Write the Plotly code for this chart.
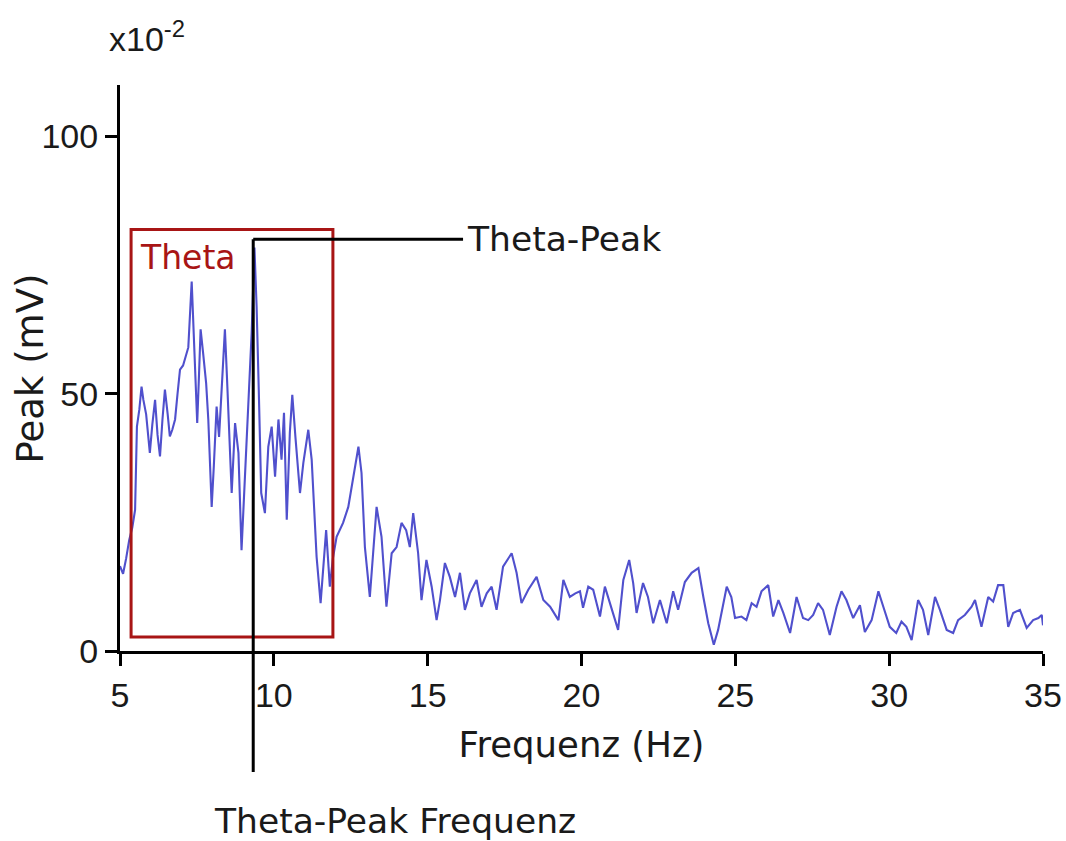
import plotly.graph_objects as go

# ---- data ----
freq = [5.00, 5.10, 5.20, 5.30, 5.40, 5.49, 5.55, 5.63, 5.70, 5.76, 5.85, 5.97, 6.05, 6.14, 6.22, 6.30,
        6.38, 6.46, 6.55, 6.62, 6.70, 6.79, 6.87, 6.95, 7.05, 7.11, 7.22, 7.33, 7.40, 7.44, 7.51, 7.57,
        7.62, 7.70, 7.80, 7.87, 7.98, 8.05, 8.14, 8.22, 8.30, 8.41, 8.48, 8.55, 8.63, 8.74, 8.85, 8.95,
        9.06, 9.17, 9.28, 9.37, 9.44, 9.51, 9.59, 9.71, 9.82, 9.93, 10.04, 10.15, 10.25, 10.33, 10.42,
        10.52, 10.60, 10.70, 10.85, 10.96, 11.12, 11.23, 11.30, 11.39, 11.52, 11.60, 11.70, 11.82, 11.92,
        12.04, 12.25, 12.42, 12.58, 12.75, 12.85, 12.96, 13.12, 13.22, 13.34, 13.50, 13.66, 13.83, 13.99,
        14.15, 14.30, 14.42, 14.53, 14.69, 14.80, 14.96, 15.13, 15.29, 15.40, 15.56, 15.72, 15.89, 16.05,
        16.21, 16.37, 16.59, 16.75, 16.92, 17.08, 17.24, 17.45, 17.73, 17.89, 18.05, 18.27, 18.54, 18.76,
        18.98, 19.25, 19.41, 19.62, 19.80, 19.95, 20.05, 20.22, 20.38, 20.60, 20.76, 20.98, 21.19, 21.36,
        21.55, 21.68, 21.79, 22.00, 22.16, 22.33, 22.55, 22.77, 22.98, 23.14, 23.36, 23.58, 23.80, 23.96,
        24.12, 24.30, 24.44, 24.72, 24.87, 24.99, 25.20, 25.36, 25.53, 25.69, 25.85, 26.07, 26.23, 26.40,
        26.56, 26.78, 26.99, 27.20, 27.37, 27.53, 27.69, 27.85, 28.07, 28.29, 28.45, 28.61, 28.83, 29.05,
        29.21, 29.43, 29.65, 29.81, 30.02, 30.23, 30.40, 30.56, 30.73, 30.94, 31.10, 31.27, 31.49, 31.65,
        31.87, 32.08, 32.24, 32.46, 32.68, 32.79, 33.00, 33.22, 33.38, 33.54, 33.71, 33.87, 34.03, 34.25,
        34.47, 34.68, 34.85, 34.96, 35.00]
peak = [16.5, 15.0, 18.0, 21.6, 24.0, 27.4, 43.6, 47.0, 51.4, 48.8, 46.0, 38.5, 44.0, 48.8, 42.0, 37.8,
        45.0, 50.8, 46.0, 41.7, 43.0, 45.0, 50.0, 54.7, 55.5, 56.6, 59.0, 71.8, 62.0, 56.6, 44.3, 54.0,
        62.5, 58.0, 52.0, 45.0, 28.0, 36.0, 47.5, 41.6, 50.0, 62.5, 52.7, 42.0, 30.7, 44.3, 38.5, 19.6,
        33.3, 45.5, 62.0, 78.4, 67.0, 50.8, 30.7, 26.8, 39.7, 43.6, 33.9, 45.0, 37.2, 46.3, 25.5,
        42.4, 49.8, 41.7, 30.7, 36.6, 43.0, 37.2, 28.0, 18.3, 9.3, 15.0, 23.5, 12.5, 18.0,
        22.2, 24.9, 28.0, 33.3, 39.7, 34.6, 20.2, 10.5, 19.0, 28.0, 22.2, 8.6, 19.0, 20.2,
        24.9, 23.5, 20.2, 26.8, 19.0, 9.9, 17.7, 12.5, 6.0, 9.9, 17.1, 14.4, 10.5, 15.2,
        8.0, 11.2, 13.8, 8.6, 11.2, 12.5, 8.0, 16.4, 19.0, 15.2, 9.3, 11.9, 14.4, 9.9,
        8.6, 6.0, 13.8, 10.5, 11.2, 11.6, 8.4, 12.5, 11.9, 6.7, 12.5, 8.0, 4.1, 13.8,
        17.7, 13.2, 7.4, 13.2, 10.5, 5.4, 9.9, 5.4, 11.6, 8.0, 13.4, 15.2, 16.1, 10.5,
        5.4, 1.2, 4.1, 12.5, 10.5, 6.4, 6.7, 6.0, 9.3, 8.6, 11.6, 12.8, 6.7, 9.9,
        7.4, 3.5, 10.5, 6.4, 6.0, 7.0, 9.3, 8.0, 3.1, 8.6, 11.6, 9.9, 6.4, 8.9,
        3.7, 6.0, 11.6, 8.6, 4.7, 3.5, 5.7, 4.7, 2.1, 9.9, 8.0, 3.1, 10.5, 8.0,
        4.1, 3.5, 6.0, 7.0, 8.6, 9.9, 4.7, 10.5, 9.6, 12.8, 12.8, 4.7, 7.4, 8.0,
        4.5, 6.0, 6.4, 7.0, 5.0]

x_ticks = [5, 10, 15, 20, 25, 30, 35]
y_ticks = [0, 50, 100]
x_range = [5, 35]
y_range = [0, 110]

theta_band = [5.36, 11.92]      # Hz
theta_box_y = [2.7, 81.9]
theta_peak_freq = 9.33
theta_peak_val = 80
theta_peak_label_x = 16.2

TICKFONT = "Liberation Sans, Arial, sans-serif"
FONT = "DejaVu Sans, Verdana, sans-serif"
TXT = "#1a1a1a"
RED = "#a81515"

fig = go.Figure()
fig.add_trace(go.Scatter(x=freq, y=peak, mode="lines",
                         line=dict(color="rgb(80,80,205)", width=2.1),
                         hoverinfo="skip"))

fig.update_layout(
    width=1066, height=841,
    margin=dict(l=120, r=23, t=85, b=190),
    paper_bgcolor="white", plot_bgcolor="white",
    showlegend=False,
    font=dict(family=TICKFONT, size=34, color=TXT),
)
fig.update_xaxes(range=x_range, tickvals=x_ticks, ticks="outside", ticklen=12, tickwidth=3,
                 tickcolor="black", showline=True, linewidth=3, linecolor="black", automargin=False,
                 showgrid=False, zeroline=False, tickfont=dict(family=TICKFONT, size=34, color=TXT),
                 title=dict(text="Frequenz (Hz)", font=dict(family=FONT, size=35.5, color=TXT), standoff=20))
fig.update_yaxes(range=y_range, tickvals=y_ticks, ticks="outside", ticklen=12, tickwidth=3,
                 tickcolor="black", showline=True, linewidth=3, linecolor="black", automargin=False,
                 showgrid=False, zeroline=False, tickfont=dict(family=TICKFONT, size=34, color=TXT))

ypaper = lambda v: (v - y_range[0]) / (y_range[1] - y_range[0])

# theta box
fig.add_shape(type="rect", xref="x", yref="y", x0=theta_band[0], x1=theta_band[1],
              y0=theta_box_y[0], y1=theta_box_y[1], line=dict(color=RED, width=3), layer="above")
# theta-peak vertical line (extends below axis) and horizontal leader
fig.add_shape(type="line", xref="x", yref="paper", x0=theta_peak_freq, x1=theta_peak_freq,
              y0=-0.214, y1=ypaper(theta_peak_val), line=dict(color="black", width=3), layer="above")
fig.add_shape(type="line", xref="x", yref="y", x0=theta_peak_freq, x1=theta_peak_label_x - 0.05,
              y0=theta_peak_val, y1=theta_peak_val, line=dict(color="black", width=3), layer="above")

fig.add_annotation(x=5.585, y=76.5, xref="x", yref="y", text="Theta", showarrow=False,
                   xanchor="left", yanchor="middle", font=dict(family=FONT, size=33, color=RED))
fig.add_annotation(x=theta_peak_label_x, y=theta_peak_val, xref="x", yref="y", text="Theta-Peak",
                   showarrow=False, xanchor="left", yanchor="middle",
                   font=dict(family=FONT, size=34.5, color=TXT))
fig.add_annotation(x=13.94, y=-0.30, xref="x", yref="paper", text="Theta-Peak Frequenz",
                   showarrow=False, xanchor="center", yanchor="middle",
                   font=dict(family=FONT, size=34.5, color=TXT))
fig.add_annotation(x=-0.097, y=0.5, xref="paper", yref="paper", text="Peak (mV)", textangle=-90,
                   showarrow=False, xanchor="center", yanchor="middle",
                   font=dict(family=FONT, size=37, color=TXT))
fig.add_annotation(x=-0.014, y=1.085, xref="paper", yref="paper", text="x10<sup>-2</sup>",
                   showarrow=False, xanchor="left", yanchor="middle",
                   font=dict(family=TICKFONT, size=34, color=TXT))

fig.write_html("out.html", config={"responsive": False, "displayModeBar": False},
               post_script="document.body.style.margin='0';document.body.style.overflow='hidden';")
